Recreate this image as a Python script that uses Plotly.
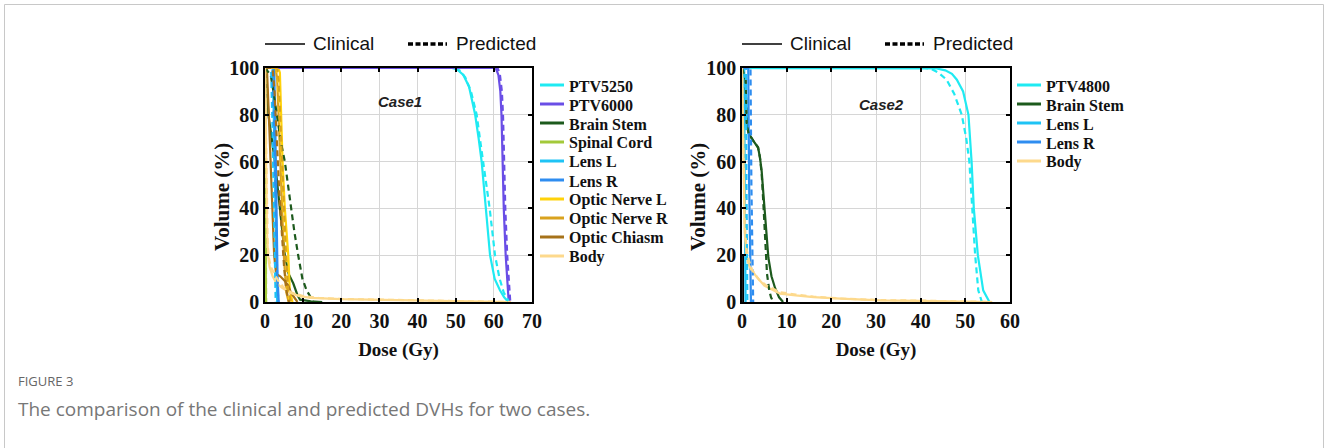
import plotly.graph_objects as go

W, H = 1328, 448

# ---------------- DATA ----------------
c1_ptv5250_clin_d = [0, 49, 50.3, 52, 53.5, 55.1, 56, 56.8, 57.9, 59.0, 60.2, 61.6, 62.7, 63.8]
c1_ptv5250_clin_v = [100, 100, 99.5, 97, 92, 80, 70, 60, 40, 20, 10, 5, 2, 0]
c1_ptv5250_pred_d = [0, 49.5, 51, 52.5, 54, 55.5, 56.5, 57.2, 58.1, 58.9, 60.3, 61.5, 62.6, 64.0]
c1_ptv5250_pred_v = [100, 100, 99, 96, 90, 80, 68, 60, 50, 40, 20, 10, 4, 0]

c1_ptv6000_clin_d = [0, 60.5, 61.2, 61.7, 62.0, 62.3, 62.6, 63.1, 63.5, 63.9]
c1_ptv6000_clin_v = [100, 100, 97, 90, 80, 60, 40, 20, 8, 0]
c1_ptv6000_pred_d = [0, 61.0, 61.6, 62.1, 62.4, 62.7, 63.0, 63.5, 63.9, 64.3]
c1_ptv6000_pred_v = [100, 100, 97, 90, 80, 60, 40, 20, 8, 0]

c1_bs_clin_d = [0, 0.5, 0.9, 1.8, 2.6, 3.9, 5.2, 6.2, 7.4, 8.5, 9.2, 12, 15]
c1_bs_clin_v = [100, 92, 80, 70, 60, 40, 20, 12, 8, 3, 1, 0.3, 0]
c1_bs_pred_d = [0, 1.5, 2.2, 3.1, 4.2, 5.2, 6.0, 6.7, 7.7, 8.7, 9.8, 10.9, 12.7]
c1_bs_pred_v = [100, 97, 90, 80, 68, 60, 50, 40, 30, 20, 10, 5, 0]

c1_sc_clin_d = [0, 0.1, 0.15, 0.25]
c1_sc_clin_v = [100, 60, 20, 0]
c1_sc_pred_d = [0, 0.12, 0.2, 0.3]
c1_sc_pred_v = [100, 60, 20, 0]

c1_ll_clin_d = [0, 2.0, 2.3, 2.6, 2.9, 3.2]
c1_ll_clin_v = [100, 100, 80, 50, 15, 0]
c1_ll_pred_d = [0, 1.6, 1.9, 2.2, 2.5, 2.8]
c1_ll_pred_v = [100, 100, 80, 50, 15, 0]

c1_lr_clin_d = [0, 2.4, 2.7, 3.0, 3.3, 3.6]
c1_lr_clin_v = [100, 100, 75, 40, 10, 0]
c1_lr_pred_d = [0, 2.0, 2.4, 2.8, 3.2, 3.5]
c1_lr_pred_v = [100, 100, 75, 40, 10, 0]

c1_onl_clin_d = [0, 3.5, 3.9, 4.2, 4.6, 5.2, 6.1, 6.5, 7.2]
c1_onl_clin_v = [100, 100, 98, 80, 60, 40, 20, 5, 0]
c1_onl_pred_d = [0, 3.0, 3.4, 3.8, 4.3, 4.9, 5.6, 6.0, 6.5]
c1_onl_pred_v = [100, 100, 95, 80, 60, 40, 20, 5, 0]

c1_onr_clin_d = [0, 2.8, 3.2, 3.6, 4.0, 4.5, 5.0, 5.6, 6.2]
c1_onr_clin_v = [100, 100, 95, 78, 58, 38, 18, 4, 0]
c1_onr_pred_d = [0, 3.2, 3.6, 4.0, 4.5, 5.0, 5.5, 6.1, 6.8]
c1_onr_pred_v = [100, 100, 94, 80, 60, 40, 20, 5, 0]

c1_oc_clin_d = [0, 0.5, 1.0, 1.5, 2.0, 2.4, 2.9, 4.0, 5.2, 6.1, 6.8, 7.6, 8.5]
c1_oc_clin_v = [100, 100, 80, 60, 40, 20, 12, 11, 9, 7, 4, 2, 0]
c1_oc_pred_d = [0, 2.0, 2.5, 2.9, 3.3, 3.8, 4.4, 5.0, 5.6, 6.3]
c1_oc_pred_v = [100, 100, 90, 75, 60, 45, 30, 15, 5, 0]

c1_body_clin_d = [0, 0.15, 0.3, 0.5, 0.8, 1.2, 2.0, 3.0, 4.5, 6.5, 9, 12, 20, 30, 40, 50, 60, 64]
c1_body_clin_v = [100, 80, 50, 30, 20, 15, 11, 8, 6, 4, 2.5, 1.8, 1.2, 0.9, 0.7, 0.5, 0.3, 0]
c1_body_pred_d = [0, 0.2, 0.4, 0.7, 1.0, 1.5, 2.5, 3.5, 5, 7, 10, 14, 20, 30, 40, 50, 60, 64.5]
c1_body_pred_v = [100, 75, 45, 25, 19, 15, 12, 9, 6, 4, 2.5, 1.8, 1.3, 1.0, 0.8, 0.6, 0.4, 0]

c2_ptv_clin_d = [0, 42, 43.6, 45.5, 47, 48.1, 49.5, 50.7, 51.4, 51.9, 52.8, 54.0, 55.4]
c2_ptv_clin_v = [100, 100, 99.8, 99, 97.5, 95, 90, 80, 60, 40, 20, 5, 0]
c2_ptv_pred_d = [0, 41, 42.5, 44, 45.8, 47.5, 49.2, 50.2, 50.9, 51.6, 52.2, 52.9, 53.7]
c2_ptv_pred_v = [100, 100, 99.5, 98, 95, 89, 80, 70, 60, 40, 20, 5, 0]

c2_bs_clin_d = [0, 0.8, 1.05, 1.5, 2.5, 3.6, 4.0, 4.4, 4.8, 5.1, 5.5, 5.9, 6.6, 7.4, 8.3, 9.2]
c2_bs_clin_v = [100, 95, 76, 72, 69, 66, 62, 56, 46, 38, 28, 19, 11, 6, 2, 0]
c2_bs_pred_d = [0, 0.8, 1.05, 1.5, 2.5, 3.6, 4.0, 4.4, 4.7, 5.0, 5.2, 5.6, 6.1, 6.5, 7.0]
c2_bs_pred_v = [100, 95, 76, 72, 69, 66, 62, 55, 45, 32, 23, 12, 5, 2, 0]

c2_ll_clin_d = [0, 0.5, 0.6, 0.7, 0.8]
c2_ll_clin_v = [100, 100, 50, 10, 0]
c2_ll_pred_d = [0, 0.9, 1.0, 1.1, 1.2]
c2_ll_pred_v = [100, 100, 50, 10, 0]

c2_lr_clin_d = [0, 1.4, 1.6, 1.8, 2.0]
c2_lr_clin_v = [100, 100, 50, 10, 0]
c2_lr_pred_d = [0, 1.9, 2.1, 2.3, 2.5]
c2_lr_pred_v = [100, 100, 50, 10, 0]

c2_body_clin_d = [0, 0.2, 0.4, 0.6, 1.0, 1.5, 2.0, 3.3, 5, 8.5, 12, 16, 22, 31, 40, 50, 56]
c2_body_clin_v = [100, 70, 45, 30, 20, 16, 14, 10.7, 7, 3.6, 2.8, 2.1, 1.4, 0.7, 0.5, 0.3, 0]
c2_body_pred_d = [0, 0.2, 0.4, 0.6, 1.0, 1.5, 2.3, 3.9, 5.5, 8.5, 12, 16, 22, 31, 40, 50, 56]
c2_body_pred_v = [100, 72, 48, 33, 23, 18, 13.6, 9.3, 7, 4.2, 3.2, 2.3, 1.5, 0.8, 0.6, 0.35, 0]

c2_extra_d = [0.25, 0.25]
c2_extra_v = [20, 0]

x1_ticks = [0, 10, 20, 30, 40, 50, 60, 70]
x2_ticks = [0, 10, 20, 30, 40, 50, 60]
y_ticks = [0, 20, 40, 60, 80, 100]

key_labels = ["Clinical", "Predicted"]
case_labels = ["Case1", "Case2"]
x_title = "Dose (Gy)"
y_title = "Volume (%)"
caption_head = "FIGURE 3"
caption_text = "The comparison of the clinical and predicted DVHs for two cases."

# ---------------- STYLE ----------------
col = {
    "PTV": "#1FEAF2", "PTV6000": "#6A4EE6", "Brain Stem": "#1D5A1D",
    "Spinal Cord": "#A3C93A", "Lens L": "#1EC3F5", "Lens R": "#2E8DF0",
    "Optic Nerve L": "#FFD20A", "Optic Nerve R": "#D9A21E",
    "Optic Chiasm": "#A6721A", "Body": "#FDD98C",
}

c1 = [
    ("PTV5250", col["PTV"], c1_ptv5250_clin_d, c1_ptv5250_clin_v, c1_ptv5250_pred_d, c1_ptv5250_pred_v),
    ("PTV6000", col["PTV6000"], c1_ptv6000_clin_d, c1_ptv6000_clin_v, c1_ptv6000_pred_d, c1_ptv6000_pred_v),
    ("Brain Stem", col["Brain Stem"], c1_bs_clin_d, c1_bs_clin_v, c1_bs_pred_d, c1_bs_pred_v),
    ("Spinal Cord", col["Spinal Cord"], c1_sc_clin_d, c1_sc_clin_v, c1_sc_pred_d, c1_sc_pred_v),
    ("Lens L", col["Lens L"], c1_ll_clin_d, c1_ll_clin_v, c1_ll_pred_d, c1_ll_pred_v),
    ("Lens R", col["Lens R"], c1_lr_clin_d, c1_lr_clin_v, c1_lr_pred_d, c1_lr_pred_v),
    ("Optic Nerve L", col["Optic Nerve L"], c1_onl_clin_d, c1_onl_clin_v, c1_onl_pred_d, c1_onl_pred_v),
    ("Optic Nerve R", col["Optic Nerve R"], c1_onr_clin_d, c1_onr_clin_v, c1_onr_pred_d, c1_onr_pred_v),
    ("Optic Chiasm", col["Optic Chiasm"], c1_oc_clin_d, c1_oc_clin_v, c1_oc_pred_d, c1_oc_pred_v),
    ("Body", col["Body"], c1_body_clin_d, c1_body_clin_v, c1_body_pred_d, c1_body_pred_v),
]
c2 = [
    ("PTV4800", col["PTV"], c2_ptv_clin_d, c2_ptv_clin_v, c2_ptv_pred_d, c2_ptv_pred_v),
    ("Brain Stem", col["Brain Stem"], c2_bs_clin_d, c2_bs_clin_v, c2_bs_pred_d, c2_bs_pred_v),
    ("Lens L", col["Lens L"], c2_ll_clin_d, c2_ll_clin_v, c2_ll_pred_d, c2_ll_pred_v),
    ("Lens R", col["Lens R"], c2_lr_clin_d, c2_lr_clin_v, c2_lr_pred_d, c2_lr_pred_v),
    ("Body", col["Body"], c2_body_clin_d, c2_body_clin_v, c2_body_pred_d, c2_body_pred_v),
]

PRED_DASH = "6px,4px"
LW = 2.2
serif = "Liberation Serif"
sans = "Liberation Sans"


def px_x(p):
    return p / W


def px_y(p):
    return 1 - p / H


fig = go.Figure()


def add_case(data, xa, ya):
    for name, c, cd, cv, pd_, pv in data:
        fig.add_trace(go.Scatter(x=cd, y=cv, mode="lines", name=name,
                                 line=dict(color=c, width=LW), xaxis=xa, yaxis=ya,
                                 showlegend=False, hoverinfo="skip"))
    for name, c, cd, cv, pd_, pv in data:
        fig.add_trace(go.Scatter(x=pd_, y=pv, mode="lines", name=name + " (predicted)",
                                 line=dict(color=c, width=LW, dash=PRED_DASH), xaxis=xa, yaxis=ya,
                                 showlegend=False, hoverinfo="skip"))


add_case(c1, "x", "y")
fig.add_trace(go.Scatter(x=c2_extra_d, y=c2_extra_v, mode="lines", line=dict(color="black", width=2),
                         xaxis="x2", yaxis="y2", showlegend=False, hoverinfo="skip"))
add_case(c2, "x2", "y2")

ydom = [px_y(302), px_y(68)]
axis_common = dict(showgrid=True, gridcolor="#d6d6d6", gridwidth=1, zeroline=False,
                   showline=True, linecolor="black", linewidth=1.5, mirror="ticks",
                   ticks="inside", ticklen=4, tickcolor="black", tickwidth=1.5, automargin=False,
                   tickfont=dict(family=serif, size=20, color="#111", weight="bold"))
xt = dict(text=x_title, font=dict(family=serif, size=19, color="#111", weight="bold"), standoff=12)

fig.update_layout(
    width=W, height=H, margin=dict(l=0, r=0, t=0, b=0, autoexpand=False),
    paper_bgcolor="white", plot_bgcolor="white", showlegend=False,
    xaxis=dict(domain=[px_x(265), px_x(532)], range=[0, 70], tickvals=x1_ticks, anchor="y",
               title=xt, **axis_common),
    yaxis=dict(domain=ydom, range=[0, 100], tickvals=y_ticks, anchor="x", **axis_common),
    xaxis2=dict(domain=[px_x(742), px_x(1010)], range=[0, 60], tickvals=x2_ticks, anchor="y2",
                title=xt, **axis_common),
    yaxis2=dict(domain=ydom, range=[0, 100], tickvals=y_ticks, anchor="x2", **axis_common),
)

shapes = []

# y-axis titles (placed as in the original, slightly below the panel centre)
for xc in (222, 698):
    fig.add_annotation(text=y_title, x=px_x(xc), y=px_y(197), xref="paper", yref="paper",
                       textangle=-90, showarrow=False, xanchor="center", yanchor="middle",
                       font=dict(family=serif, size=21, color="#111", weight="bold"))

# Clinical / Predicted keys above each panel
for x_line0 in (265, 742):
    shapes.append(dict(type="line", xref="paper", yref="paper", x0=px_x(x_line0), x1=px_x(x_line0 + 40),
                       y0=px_y(44), y1=px_y(44), line=dict(color="black", width=1.5)))
    shapes.append(dict(type="line", xref="paper", yref="paper", x0=px_x(x_line0 + 143), x1=px_x(x_line0 + 182),
                       y0=px_y(44), y1=px_y(44), line=dict(color="black", width=3.5, dash="5px,2.5px")))
    for lbl, dx in zip(key_labels, (46, 189)):
        fig.add_annotation(text=lbl, x=px_x(x_line0 + dx), y=px_y(44), xref="paper", yref="paper",
                           xanchor="left", yanchor="middle", showarrow=False,
                           font=dict(family=sans, size=19, color="#111"))

# Structure keys at the right of each panel
for data, x0 in ((c1, 540), (c2, 1017)):
    for i, (name, c, *_rest) in enumerate(data):
        yy = 85 + 19 * i
        shapes.append(dict(type="line", xref="paper", yref="paper", x0=px_x(x0), x1=px_x(x0 + 24),
                           y0=px_y(yy), y1=px_y(yy), line=dict(color=c, width=3)))
        fig.add_annotation(text=name, x=px_x(x0 + 27), y=px_y(yy + 1), xref="paper", yref="paper",
                           xanchor="left", yanchor="middle", showarrow=False,
                           font=dict(family=serif, size=16, color="#111", weight="bold"))

fig.add_annotation(text="<b><i>" + case_labels[0] + "</i></b>", x=px_x(376), y=px_y(91), xref="paper", yref="paper",
                   showarrow=False, font=dict(family=sans, size=15, color="#222"))
fig.add_annotation(text="<b><i>" + case_labels[1] + "</i></b>", x=px_x(881), y=px_y(94), xref="paper", yref="paper",
                   showarrow=False, font=dict(family=sans, size=15, color="#222"))

fig.add_annotation(text=caption_head, x=px_x(16), y=px_y(381), xref="paper", yref="paper",
                   xanchor="left", yanchor="middle", showarrow=False,
                   font=dict(family="Open Sans", size=13, color="#666"))
fig.add_annotation(text=caption_text, x=px_x(16), y=px_y(409), xref="paper", yref="paper",
                   xanchor="left", yanchor="middle", showarrow=False,
                   font=dict(family="Open Sans", size=19, color="#777"))

# outer frame of the figure panel
shapes.append(dict(type="rect", xref="paper", yref="paper", x0=px_x(4.5), x1=px_x(1323.5),
                   y0=-0.1, y1=px_y(4.5), line=dict(color="#c8c8c8", width=1),
                   fillcolor="rgba(0,0,0,0)", layer="below"))
fig.update_layout(shapes=shapes)

fig.write_html("out.html")
